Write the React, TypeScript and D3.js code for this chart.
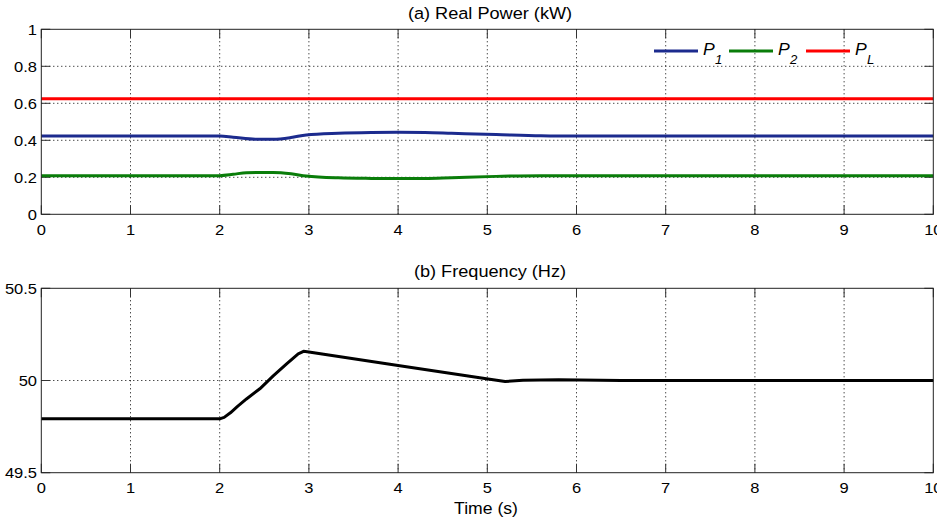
import React from "react";
import * as d3 from "d3";

const xTicks = [0, 1, 2, 3, 4, 5, 6, 7, 8, 9, 10];
const powerTicks = [0, 0.2, 0.4, 0.6, 0.8, 1];
const freqTicks = [49.5, 50, 50.5];

const p1Series: [number, number][] = [
  [0, 0.423], [2.0, 0.423], [2.15, 0.417], [2.4, 0.406], [2.6, 0.406], [2.8, 0.415],
  [2.97, 0.429], [3.33, 0.438], [3.7, 0.442], [4.0, 0.443], [4.3, 0.442], [4.6, 0.438],
  [5.1, 0.431], [5.6, 0.424], [6.0, 0.423], [10, 0.423],
];
const p2Series: [number, number][] = [
  [0, 0.209], [2.0, 0.209], [2.15, 0.216], [2.3, 0.225], [2.6, 0.226], [2.8, 0.219],
  [2.97, 0.207], [3.33, 0.197], [3.7, 0.194], [4.0, 0.193], [4.3, 0.194], [4.6, 0.198],
  [5.1, 0.205], [5.6, 0.209], [6.0, 0.209], [10, 0.209],
];
const pLSeries: [number, number][] = [
  [0, 0.624], [10, 0.624],
];
const freqSeries: [number, number][] = [
  [0, 49.792], [2.0, 49.792], [2.05, 49.8], [2.12, 49.825], [2.2, 49.86], [2.3, 49.9],
  [2.45, 49.955], [2.6, 50.025], [2.75, 50.09], [2.88, 50.145], [2.94, 50.158], [3.0, 50.155],
  [4.0, 50.081], [4.99, 50.009], [5.2, 49.994], [5.4, 50.002], [5.8, 50.004], [6.5, 50.0], [10, 50.0],
];

const legendItems = [
  { label: "P", sub: "1", color: "#1c2b8e" },
  { label: "P", sub: "2", color: "#0a7d0a" },
  { label: "P", sub: "L", color: "#ff0000" },
];

const FONT = "'Liberation Sans', Arial, Helvetica, sans-serif";
const SX = 1.1;

function T({ x, y, anchor = "middle", size = 15, children, italic = false }: any) {
  return (
    <text
      transform={`translate(${x},${y}) scale(${SX},1)`}
      textAnchor={anchor}
      fontSize={size}
      fontFamily={FONT}
      fontStyle={italic ? "italic" : "normal"}
      fill="#000"
    >
      {children}
    </text>
  );
}

function Panel({ top, bottom, yDomain, yTicks, yFmt, series, title, titleY }: any) {
  const left = 41.3;
  const right = 933.3;
  const x = d3.scaleLinear().domain([0, 10]).range([left, right]);
  const y = d3.scaleLinear().domain(yDomain).range([bottom, top]);
  const tickLen = 9;
  return (
    <g>
      {xTicks.slice(1, -1).map((t) => (
        <line key={"gx" + t} x1={x(t)} x2={x(t)} y1={top} y2={bottom} stroke="#000" strokeWidth={1} strokeDasharray="1,3" />
      ))}
      {yTicks.slice(1, -1).map((t: number) => (
        <line key={"gy" + t} x1={left} x2={right} y1={y(t)} y2={y(t)} stroke="#000" strokeWidth={1} strokeDasharray="1,3" />
      ))}
      {xTicks.map((t) => (
        <g key={"tx" + t}>
          <line x1={x(t)} x2={x(t)} y1={bottom} y2={bottom - tickLen} stroke="#333" strokeWidth={1} />
          <line x1={x(t)} x2={x(t)} y1={top} y2={top + tickLen} stroke="#333" strokeWidth={1} />
          <T x={x(t)} y={bottom + 20.7} size={15}>{String(t)}</T>
        </g>
      ))}
      {yTicks.map((t: number) => (
        <g key={"ty" + t}>
          <line x1={left} x2={left + tickLen} y1={y(t)} y2={y(t)} stroke="#333" strokeWidth={1} />
          <line x1={right} x2={right - tickLen} y1={y(t)} y2={y(t)} stroke="#333" strokeWidth={1} />
          <T x={37} y={y(t) + 5.4} anchor="end" size={15}>{yFmt(t)}</T>
        </g>
      ))}
      {series.map((s: any, i: number) => {
        const line = d3
          .line<[number, number]>()
          .x((d) => x(d[0]))
          .y((d) => y(d[1]))
          .curve(s.smooth ? d3.curveMonotoneX : d3.curveLinear);
        return (
          <path key={"s" + i} d={line(s.data) || ""} fill="none" stroke={s.color} strokeWidth={3} strokeLinejoin="round" />
        );
      })}
      <rect x={left} y={top} width={right - left} height={bottom - top} fill="none" stroke="#222" strokeWidth={1} />
      <T x={490} y={titleY} size={16.5}>{title}</T>
    </g>
  );
}

export default function App() {
  const fmtP = (t: number) => String(t);
  const fmtF = (t: number) => String(t);
  return (
    <svg
      width={937}
      height={522}
      style={{ position: "absolute", left: 0, top: 0, background: "#fff" }}
    >
      <rect x={0} y={0} width={937} height={522} fill="#fff" />
      <Panel
        top={29.3}
        bottom={214.3}
        yDomain={[0, 1]}
        yTicks={powerTicks}
        yFmt={fmtP}
        title="(a) Real Power (kW)"
        titleY={18.5}
        series={[
          { data: pLSeries, color: legendItems[2].color, smooth: true },
          { data: p1Series, color: legendItems[0].color, smooth: true },
          { data: p2Series, color: legendItems[1].color, smooth: true },
        ]}
      />
      <Panel
        top={288.3}
        bottom={472.7}
        yDomain={[49.5, 50.5]}
        yTicks={freqTicks}
        yFmt={fmtF}
        title="(b) Frequency (Hz)"
        titleY={276.7}
        series={[{ data: freqSeries, color: "#000", smooth: false }]}
      />
      <T x={486} y={514.3} size={16}>Time (s)</T>
      {legendItems.map((it, i) => {
        const lx = [654, 729, 806][i];
        return (
          <g key={"lg" + i}>
            <line x1={lx} x2={lx + 44} y1={51} y2={51} stroke={it.color} strokeWidth={3} />
            <T x={lx + 49} y={54.5} anchor="start" size={16} italic>{it.label}</T>
            <T x={lx + 61} y={63.5} anchor="start" size={12} italic>{it.sub}</T>
          </g>
        );
      })}
    </svg>
  );
}
